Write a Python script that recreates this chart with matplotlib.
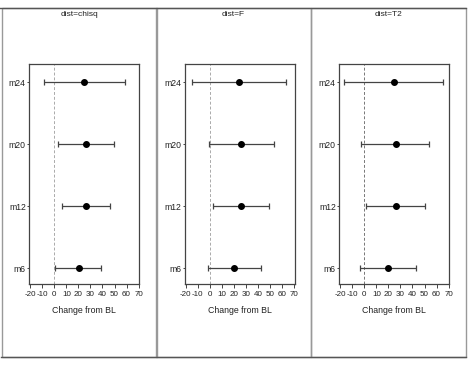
import matplotlib
matplotlib.use("Agg")
import matplotlib.pyplot as plt
from matplotlib.patches import Rectangle
from matplotlib.lines import Line2D

plt.rcParams['font.family'] = ['Liberation Sans', 'DejaVu Sans']
plt.rcParams['axes.unicode_minus'] = False

categories = ["m6", "m12", "m20", "m24"]
dists = ["chisq", "F", "T2"]

est_chisq = [20.2, 26.0, 26.2, 24.6]
lo_chisq = [0.5, 6.1, 3.0, -8.9]
hi_chisq = [39.0, 46.2, 49.5, 58.6]

est_F = [20.1, 25.9, 26.2, 24.5]
lo_F = [-1.7, 3.0, -0.3, -14.6]
hi_F = [42.5, 49.0, 53.5, 63.5]

est_T2 = [20.0, 26.1, 26.1, 24.3]
lo_T2 = [-3.3, 1.7, -2.5, -16.6]
hi_T2 = [42.9, 50.7, 54.0, 65.7]

xticks = [-20, -10, 0, 10, 20, 30, 40, 50, 60, 70]

series = [(est_chisq, lo_chisq, hi_chisq), (est_F, lo_F, hi_F), (est_T2, lo_T2, hi_T2)]

W, H = 469, 367
fig = plt.figure(figsize=(W / 100, H / 100), dpi=100)
fig.patch.set_facecolor('white')

panel_lefts = [1.5, 155.5, 310.5]
panel_w = 155
axes_lefts = [29.3, 184.7, 339.3]
ax_w = 110
ax_top, ax_bot = 64, 284
top_y, bot_y = 8, 357.3

def fx(px):
    return px / W

def fy(py):
    return 1 - py / H

# panel frames
for pl in panel_lefts:
    fig.add_artist(Rectangle((fx(pl), fy(bot_y)), panel_w / W, (bot_y - top_y) / H,
                             transform=fig.transFigure, fill=False,
                             edgecolor='#999999', linewidth=1.0))
fig.add_artist(Line2D([fx(0), fx(466)], [fy(top_y), fy(top_y)], transform=fig.transFigure,
                      color='#555555', linewidth=1.0))
fig.add_artist(Line2D([fx(1), fx(466)], [fy(bot_y), fy(bot_y)], transform=fig.transFigure,
                      color='#555555', linewidth=1.0))

ypos = list(range(1, len(categories) + 1))

for i, (d, (est, lo, hi)) in enumerate(zip(dists, series)):
    ax = fig.add_axes([fx(axes_lefts[i]), fy(ax_bot), ax_w / W, (ax_bot - ax_top) / H])
    ax.axvline(0, color='#aaaaaa' if i < 2 else '#777777', linestyle=(0, (3, 2)), linewidth=0.7, zorder=1)
    xerr = [[e - l for e, l in zip(est, lo)], [h - e for e, h in zip(est, hi)]]
    ax.errorbar(est, ypos, xerr=xerr, fmt='o', color='black', ecolor='#444444',
                elinewidth=0.9, capsize=2.2, capthick=0.9, markersize=4, zorder=3)
    ax.set_xlim(-20.8, 70.6)
    ax.set_ylim(0.75, 4.29)
    ax.set_xticks(xticks)
    ax.set_xticklabels([str(t) for t in xticks], fontsize=5.8, color='#222222')
    ax.set_yticks(ypos)
    ax.set_yticklabels(categories, fontsize=6.2, color='#222222')
    ax.tick_params(axis='x', length=3, width=0.7, pad=2, color='#444444')
    ax.tick_params(axis='y', length=1.5, width=0.7, pad=1, color='#444444')
    for s in ax.spines.values():
        s.set_color('#444444')
        s.set_linewidth(0.9)
    ax.set_xlabel("Change from BL", fontsize=6.3, labelpad=6, color='#222222')
    fig.text(fx(panel_lefts[i] + panel_w / 2), fy(14), "dist=" + d,
             ha='center', va='center', fontsize=6, color='#222222')

fig.savefig("out.png", dpi=100, facecolor='white')
